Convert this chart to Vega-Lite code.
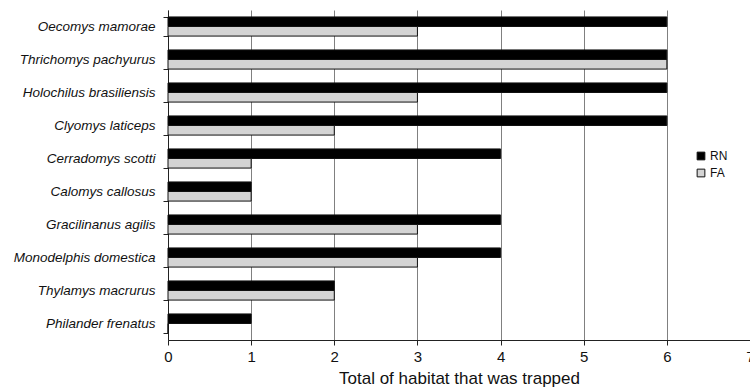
{
  "$schema": "https://vega.github.io/schema/vega-lite/v6.json",
  "autosize": {"type": "none"},
  "width": 582,
  "height": 330,
  "padding": {"left": 168, "top": 10, "right": 0, "bottom": 52},
  "background": "white",
  "config": {"view": {"stroke": null}, "font": "Liberation Sans"},
  "data": {"values": [
    {"species": "Oecomys mamorae", "site": "RN", "n": 6},
    {"species": "Oecomys mamorae", "site": "FA", "n": 3},
    {"species": "Thrichomys pachyurus", "site": "RN", "n": 6},
    {"species": "Thrichomys pachyurus", "site": "FA", "n": 6},
    {"species": "Holochilus brasiliensis", "site": "RN", "n": 6},
    {"species": "Holochilus brasiliensis", "site": "FA", "n": 3},
    {"species": "Clyomys laticeps", "site": "RN", "n": 6},
    {"species": "Clyomys laticeps", "site": "FA", "n": 2},
    {"species": "Cerradomys scotti", "site": "RN", "n": 4},
    {"species": "Cerradomys scotti", "site": "FA", "n": 1},
    {"species": "Calomys callosus", "site": "RN", "n": 1},
    {"species": "Calomys callosus", "site": "FA", "n": 1},
    {"species": "Gracilinanus agilis", "site": "RN", "n": 4},
    {"species": "Gracilinanus agilis", "site": "FA", "n": 3},
    {"species": "Monodelphis domestica", "site": "RN", "n": 4},
    {"species": "Monodelphis domestica", "site": "FA", "n": 3},
    {"species": "Thylamys macrurus", "site": "RN", "n": 2},
    {"species": "Thylamys macrurus", "site": "FA", "n": 2},
    {"species": "Philander frenatus", "site": "RN", "n": 1},
    {"species": "Philander frenatus", "site": "FA", "n": 0}
  ]},
  "mark": {"type": "bar", "stroke": "#111111", "strokeWidth": 1},
  "encoding": {
    "y": {
      "field": "species", "type": "nominal", "sort": null,
      "scale": {"paddingInner": 0.42, "paddingOuter": 0.21},
      "axis": {
        "title": null, "labelFont": "Liberation Sans", "labelFontStyle": "italic",
        "labelFontSize": 13.5, "labelColor": "#111111", "labelPadding": 8,
        "tickBand": "extent", "tickSize": 5, "tickColor": "#222222",
        "domainColor": "#222222", "grid": false
      }
    },
    "yOffset": {"field": "site", "type": "nominal", "sort": ["RN", "FA"]},
    "x": {
      "field": "n", "type": "quantitative",
      "scale": {"domain": [0, 7], "nice": false},
      "axis": {
        "title": "Total of habitat that was trapped", "titleFontSize": 17,
        "titleFontWeight": "normal", "titleColor": "#111111", "titlePadding": 6,
        "values": [0, 1, 2, 3, 4, 5, 6, 7], "format": "d", "labelFlush": false,
        "labelFontSize": 15, "labelColor": "#111111", "labelPadding": 4,
        "tickSize": 5, "tickColor": "#222222", "domainColor": "#222222",
        "grid": true, "gridColor": "#808080", "gridWidth": 1
      }
    },
    "color": {
      "field": "site", "type": "nominal", "sort": ["RN", "FA"],
      "scale": {"domain": ["RN", "FA"], "range": ["#000000", "#d4d4d4"]},
      "legend": {
        "title": null, "orient": "none", "legendX": 527, "legendY": 140,
        "symbolType": "square", "symbolSize": 60, "symbolStrokeColor": "#111111",
        "symbolStrokeWidth": 1, "labelFontSize": 12, "labelColor": "#111111",
        "rowPadding": 5, "labelOffset": 3
      }
    }
  }
}
